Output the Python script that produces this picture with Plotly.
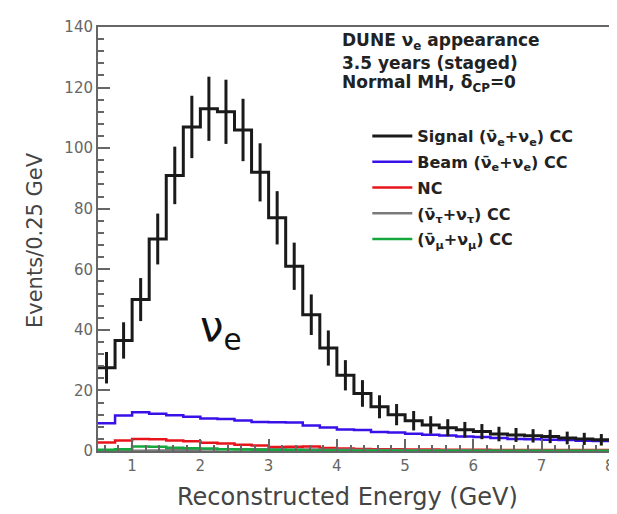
import numpy as np
import plotly.graph_objects as go

# 0.25 GeV bins from 0.5 to 8 GeV
bin_lo = 0.5
bin_width = 0.25

signal = [27.5, 36.5, 50, 70, 91, 107, 113, 112, 106, 92, 77, 61, 45, 34, 25,
          19, 14.6, 12, 10, 8.6, 7.7, 7.0, 6.4, 5.6, 5.3, 5.0, 4.8, 4.3, 4.0, 3.7]
signal_err = [5.2, 6.0, 7.1, 8.4, 9.5, 10.3, 10.6, 10.6, 10.3, 9.6, 8.8, 7.8, 6.7, 5.8, 5.0,
              4.4, 3.8, 3.5, 3.2, 2.9, 2.8, 2.6, 2.5, 2.4, 2.3, 2.2, 2.2, 2.1, 2.0, 1.9]
beam = [9.2, 11.7, 12.8, 12.3, 11.8, 11.3, 10.7, 10.6, 10.1, 9.6, 9.5, 9.4, 8.4, 7.8, 7.1,
        6.9, 6.3, 6.1, 5.7, 5.4, 5.1, 4.8, 4.6, 4.3, 4.0, 3.9, 3.7, 3.6, 3.4, 3.3]
nc = [2.8, 3.5, 4.0, 3.9, 3.5, 3.2, 2.7, 2.5, 2.1, 1.8, 1.3, 1.4, 1.5, 1.0, 0.8,
      0.7, 0.6, 0.6, 0.5, 0.5, 0.4, 0.4, 0.4, 0.3, 0.3, 0.3, 0.3, 0.3, 0.3, 0.3]
nutau = [0.0, 0.0, 0.1, 0.2, 0.3, 0.4, 0.5, 0.6, 0.6, 0.6, 0.6, 0.5, 0.5, 0.4, 0.4,
         0.3, 0.3, 0.3, 0.2, 0.2, 0.2, 0.2, 0.1, 0.1, 0.1, 0.1, 0.1, 0.1, 0.1, 0.1]
numu = [0.4, 0.6, 1.5, 1.4, 1.1, 0.9, 0.8, 0.6, 0.5, 0.4, 0.3, 0.3, 0.2, 0.2, 0.1,
        0.1, 0.1, 0.1, 0.1, 0.1, 0.1, 0.1, 0.1, 0.1, 0.1, 0.1, 0.1, 0.1, 0.1, 0.1]

x_ticks = [1, 2, 3, 4, 5, 6, 7, 8]
header = ["DUNE ν<sub>e</sub> appearance", "3.5 years (staged)", "Normal MH, δ<sub>CP</sub>=0"]

edges = bin_lo + bin_width * np.arange(len(signal) + 1)
centres = edges[:-1] + bin_width / 2


def step(vals):
    return list(vals) + [vals[-1]]


FONT = "DejaVu Sans"

fig = go.Figure()

hists = [
    (beam, "#3a10e8", "<b>Beam (ν̄<sub>e</sub>+ν<sub>e</sub>) CC</b>", 2),
    (nc, "#e8141c", "<b>NC</b>", 3),
    (nutau, "#7a7a7a", "<b>(ν̄<sub>τ</sub>+ν<sub>τ</sub>) CC</b>", 4),
    (numu, "#14a83c", "<b>(ν̄<sub>μ</sub>+ν<sub>μ</sub>) CC</b>", 5),
]
for vals, col, name, rank in hists:
    fig.add_trace(go.Scatter(x=edges, y=step(vals), mode="lines", line_shape="hv",
                             line=dict(color=col, width=2.5), name=name,
                             legendgroup=name, legendrank=rank))

fig.add_trace(go.Scatter(x=edges, y=step(signal), mode="lines", line_shape="hv",
                         line=dict(color="#1a1a1a", width=3),
                         name="<b>Signal (ν̄<sub>e</sub>+ν<sub>e</sub>) CC</b>",
                         legendgroup="sig", legendrank=1))
fig.add_trace(go.Scatter(x=centres, y=signal, mode="markers", marker=dict(size=0.1, color="#1a1a1a"),
                         error_y=dict(type="data", array=signal_err, width=0, thickness=3,
                                      color="#1a1a1a"),
                         showlegend=False, hoverinfo="skip"))

fig.add_annotation(x=2.3, y=40, xref="x", yref="y", xanchor="center", yanchor="middle",
                   text="ν<sub>e</sub>", showarrow=False,
                   font=dict(family=FONT, size=42, color="#111"))

for i, line in enumerate(header):
    fig.add_annotation(x=0.473, y=0.965 - i * 0.049, xref="paper", yref="paper",
                       xanchor="left", yanchor="middle", showarrow=False, text=line,
                       font=dict(family=FONT, size=17, color="#222", weight="bold"))

# axis titles as annotations
fig.add_annotation(x=-0.122, y=0.4965, xref="paper", yref="paper", textangle=-90,
                   xanchor="center", yanchor="middle",
                   text="Events/0.25 GeV", showarrow=False,
                   font=dict(family=FONT, size=21, color="#444"))
fig.add_annotation(x=0.487, y=-0.108, xref="paper", yref="paper",
                   xanchor="center", yanchor="middle",
                   text="Reconstructed Energy (GeV)", showarrow=False,
                   font=dict(family=FONT, size=24, color="#444"))

axis_style = dict(showline=True, linecolor="#666", linewidth=2, mirror=True,
                  ticks="inside", ticklen=12, tickwidth=1.5, tickcolor="#666",
                  showgrid=False, zeroline=False,
                  tickfont=dict(family=FONT, size=15, color="#666"))

fig.update_xaxes(range=[0.5, 8.002], tickmode="array", tickvals=x_ticks,
                 minor=dict(ticks="inside", ticklen=6, dtick=0.2, tick0=0, tickcolor="#666"),
                 **axis_style)
fig.update_yaxes(range=[0, 140], tick0=0, dtick=20,
                 minor=dict(ticks="inside", ticklen=6, dtick=4, tick0=0, tickcolor="#666"),
                 **axis_style)

fig.update_layout(
    width=617, height=514,
    margin=dict(l=90, r=10, t=14, b=71),
    plot_bgcolor="white", paper_bgcolor="white",
    showlegend=True,
    legend=dict(x=0.526, y=0.783, xanchor="left", yanchor="top",
                bgcolor="rgba(0,0,0,0)", tracegroupgap=2, itemwidth=40,
                font=dict(family=FONT, size=16, color="#222")),
)

fig.write_html("out.html")
